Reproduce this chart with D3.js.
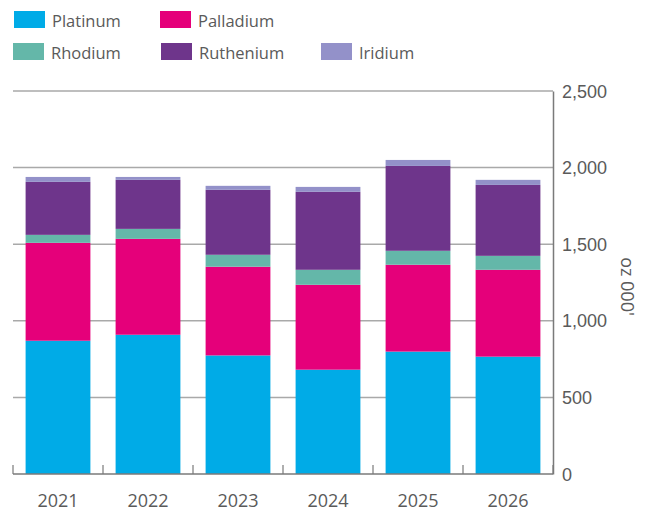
<!DOCTYPE html>
<html>
<head>
<meta charset="utf-8">
<script src="https://cdn.jsdelivr.net/npm/d3@7.9.0/dist/d3.min.js"></script>
<style>
  body { margin: 0; background: #fff; }
  svg { font-family: "Open Sans", "Noto Sans", sans-serif; }
  .tick text { fill: #5a5a5a; font-size: 18px; }
  .legend text { fill: #5a5a5a; font-size: 16.5px; }
</style>
</head>
<body>
<svg id="chart" width="650" height="513"></svg>
<script>
// --- data (oz 000) ---
const years = ['2021', '2022', '2023', '2024', '2025', '2026'];
const metals = ['Platinum', 'Palladium', 'Rhodium', 'Ruthenium', 'Iridium'];
const platinum  = [870, 909, 774, 681, 799, 766];
const palladium = [639, 626, 579, 554, 567, 567];
const rhodium   = [52, 65, 78, 98, 91, 91];
const ruthenium = [346, 320, 424, 509, 554, 463];
const iridium   = [32, 19, 26, 32, 39, 33];
const yTicks = [0, 500, 1000, 1500, 2000, 2500];

const colors = ['#00abe7', '#e5007a', '#64b7a9', '#6e358b', '#9391c9'];

const table = years.map((y, i) => ({
  year: y,
  Platinum: platinum[i],
  Palladium: palladium[i],
  Rhodium: rhodium[i],
  Ruthenium: ruthenium[i],
  Iridium: iridium[i]
}));

const margin = { left: 13, right: 97, top: 91, bottom: 39 };
const width = 650, height = 513;

const svg = d3.select('#chart');

const x = d3.scaleBand()
  .domain(years)
  .range([margin.left, width - margin.right])
  .paddingInner(0.28)
  .paddingOuter(0.14);

const y = d3.scaleLinear()
  .domain([0, 2500])
  .range([height - margin.bottom, margin.top]);

const color = d3.scaleOrdinal().domain(metals).range(colors);

// gridlines
svg.append('g')
  .selectAll('line')
  .data(yTicks.filter(d => d > 0))
  .join('line')
  .attr('x1', margin.left)
  .attr('x2', width - margin.right)
  .attr('y1', d => y(d))
  .attr('y2', d => y(d))
  .attr('stroke', '#a9a9a9')
  .attr('stroke-width', 1.5);

// stacked bars
const series = d3.stack().keys(metals)(table);
svg.append('g')
  .selectAll('g')
  .data(series)
  .join('g')
  .attr('fill', d => color(d.key))
  .selectAll('rect')
  .data(d => d)
  .join('rect')
  .attr('x', d => x(d.data.year))
  .attr('width', x.bandwidth())
  .attr('y', d => y(d[1]))
  .attr('height', d => y(d[0]) - y(d[1]));

// right axis
const yAxis = svg.append('g')
  .attr('transform', `translate(${width - margin.right},0)`)
  .call(d3.axisRight(y).tickValues(yTicks).tickFormat(d3.format(',')).tickSize(0).tickPadding(9));
yAxis.select('.domain').attr('stroke', '#7a7a7a').attr('stroke-width', 1.5);
yAxis.selectAll('.tick text').attr('dy', '0.34em');

// x axis with band boundary ticks pointing up
const xBottom = y(0);
svg.append('line')
  .attr('x1', margin.left).attr('x2', width - margin.right)
  .attr('y1', xBottom).attr('y2', xBottom)
  .attr('stroke', '#7a7a7a').attr('stroke-width', 1.5);

const step = x.step();
const bounds = d3.range(years.length + 1).map(i => margin.left + i * step);
svg.append('g')
  .selectAll('line')
  .data(bounds)
  .join('line')
  .attr('x1', d => d).attr('x2', d => d)
  .attr('y1', xBottom).attr('y2', xBottom - 9)
  .attr('stroke', '#7a7a7a').attr('stroke-width', 1.2);

svg.append('g')
  .attr('class', 'tick')
  .selectAll('text')
  .data(years)
  .join('text')
  .attr('x', d => x(d) + x.bandwidth() / 2)
  .attr('y', xBottom + 33)
  .attr('text-anchor', 'middle')
  .text(d => d);

// y axis title
svg.append('text')
  .attr('transform', `translate(621,${(y(0) + y(2500)) / 2 + 4}) rotate(90)`)
  .attr('text-anchor', 'middle')
  .style('fill', '#5a5a5a')
  .style('font-size', '18px')
  .text("oz 000'");

// legend
const legendPos = [[14, 11], [160, 11], [13, 43], [161, 43], [321, 43]];
const legend = svg.append('g').attr('class', 'legend')
  .selectAll('g')
  .data(metals)
  .join('g')
  .attr('transform', (d, i) => `translate(${legendPos[i][0]},${legendPos[i][1]})`);
legend.append('rect')
  .attr('width', 31).attr('height', 17)
  .attr('fill', d => color(d));
legend.append('text')
  .attr('x', 38).attr('y', 15.5)
  .text(d => d);
</script>
</body>
</html>
